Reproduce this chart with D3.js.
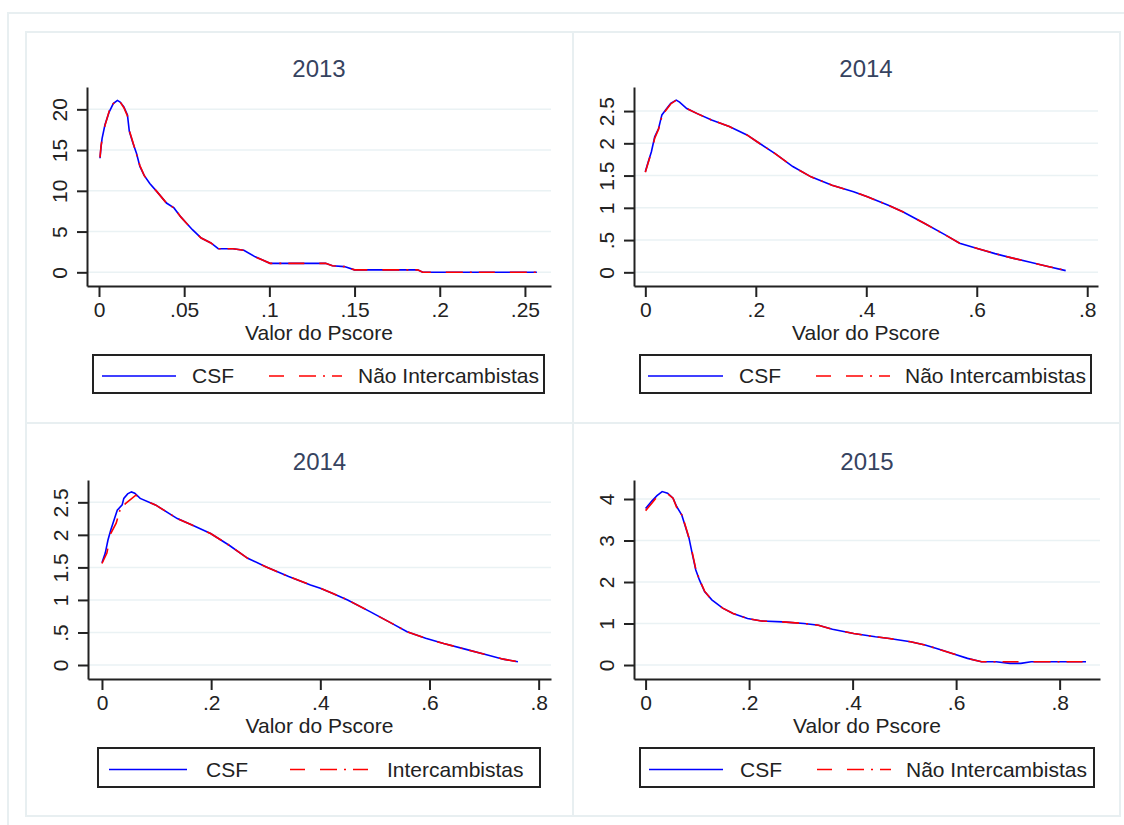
<!DOCTYPE html>
<html>
<head>
<meta charset="utf-8">
<script src="https://cdn.jsdelivr.net/npm/d3@7"></script>
<style>
  body { margin: 0; background: #fff; }
  text { font-family: "Liberation Sans", Arial, sans-serif; }
</style>
</head>
<body>
<svg id="chart"></svg>
<script>
const WIDTH = 1124
const HEIGHT = 825

// titles and legend labels
const titles = ["2013", "2014", "2014", "2015"]
const seriesLabels = [
    ["CSF", "Não Intercambistas"],
    ["CSF", "Não Intercambistas"],
    ["CSF", "Intercambistas"],
    ["CSF", "Não Intercambistas"]
]
const xLabel = "Valor do Pscore"

// ticks
const xTicks2013 = [0, 0.05, 0.1, 0.15, 0.2, 0.25]
const yTicks2013 = [0, 5, 10, 15, 20]
const xTicks2014 = [0, 0.2, 0.4, 0.6, 0.8]
const yTicks2014 = [0, 0.5, 1, 1.5, 2, 2.5]
const xTicks2015 = [0, 0.2, 0.4, 0.6, 0.8]
const yTicks2015 = [0, 1, 2, 3, 4]

// densities [pscore, density]
const csf2013 = [[0.0006,14.0],[0.0012,15.4],[0.0018,16.4],[0.0035,18.1],[0.006,19.7],[0.0084,20.7],[0.0108,21.1],[0.0124,20.9],[0.0146,20.3],[0.0167,19.3],[0.0178,17.3],[0.02,15.8],[0.022,14.6],[0.024,13.0],[0.0265,11.9],[0.0298,10.9],[0.034,9.9],[0.0396,8.5],[0.044,7.9],[0.048,6.8],[0.0515,6.0],[0.055,5.2],[0.06,4.2],[0.0657,3.6],[0.07,2.9],[0.0787,2.9],[0.085,2.7],[0.0917,1.9],[0.096,1.5],[0.1004,1.1],[0.1157,1.1],[0.133,1.1],[0.137,0.8],[0.144,0.7],[0.15,0.3],[0.159,0.3],[0.187,0.3],[0.19,0.0],[0.257,0.0]]
const nao2013 = [[0.0006,14.1],[0.0012,15.5],[0.0018,16.3],[0.0035,18.0],[0.006,19.8],[0.0084,20.7],[0.0108,21.0],[0.0124,20.9],[0.0146,20.2],[0.0167,19.2],[0.0178,17.4],[0.02,15.9],[0.022,14.5],[0.024,13.1],[0.0265,11.9],[0.0298,10.9],[0.034,9.9],[0.0396,8.5],[0.044,7.9],[0.048,6.8],[0.0515,6.0],[0.055,5.2],[0.06,4.2],[0.0657,3.6],[0.07,2.9],[0.0787,2.9],[0.085,2.7],[0.0917,1.9],[0.096,1.5],[0.1004,1.1],[0.1157,1.1],[0.133,1.1],[0.137,0.8],[0.144,0.7],[0.15,0.3],[0.159,0.3],[0.187,0.3],[0.19,0.0],[0.257,0.0]]

const csf2014 = [[0,1.56],[0.0045,1.69],[0.011,1.87],[0.017,2.10],[0.024,2.23],[0.030,2.44],[0.037,2.52],[0.046,2.62],[0.056,2.67],[0.062,2.64],[0.075,2.54],[0.094,2.46],[0.12,2.36],[0.152,2.26],[0.184,2.13],[0.203,2.02],[0.235,1.84],[0.267,1.64],[0.30,1.48],[0.338,1.35],[0.377,1.25],[0.402,1.17],[0.44,1.04],[0.466,0.94],[0.505,0.76],[0.543,0.58],[0.569,0.45],[0.601,0.37],[0.633,0.29],[0.665,0.22],[0.697,0.155],[0.729,0.09],[0.761,0.026]]
const nao2014 = [[0,1.55],[0.0045,1.68],[0.011,1.86],[0.017,2.08],[0.024,2.22],[0.030,2.42],[0.037,2.51],[0.046,2.61],[0.056,2.67],[0.062,2.64],[0.075,2.54],[0.094,2.46],[0.12,2.36],[0.152,2.26],[0.184,2.13],[0.203,2.02],[0.235,1.84],[0.267,1.64],[0.30,1.48],[0.338,1.35],[0.377,1.25],[0.402,1.17],[0.44,1.04],[0.466,0.94],[0.505,0.76],[0.543,0.58],[0.569,0.45],[0.601,0.37],[0.633,0.29],[0.665,0.22],[0.697,0.155],[0.729,0.09],[0.761,0.03]]

const csf2014b = [[0,1.57],[0.006,1.72],[0.011,1.92],[0.016,2.07],[0.023,2.25],[0.028,2.38],[0.037,2.46],[0.040,2.56],[0.047,2.63],[0.054,2.66],[0.060,2.64],[0.07,2.56],[0.098,2.46],[0.138,2.25],[0.165,2.15],[0.199,2.02],[0.233,1.84],[0.267,1.64],[0.30,1.51],[0.342,1.36],[0.382,1.23],[0.40,1.18],[0.423,1.10],[0.45,1.0],[0.491,0.82],[0.531,0.64],[0.559,0.51],[0.593,0.41],[0.626,0.33],[0.667,0.24],[0.708,0.15],[0.735,0.09],[0.762,0.05]]
const inter2014b = [[0,1.56],[0.009,1.72],[0.016,2.02],[0.026,2.18],[0.033,2.38],[0.043,2.48],[0.062,2.61],[0.07,2.56],[0.098,2.46],[0.138,2.25],[0.165,2.15],[0.199,2.02],[0.233,1.84],[0.267,1.64],[0.30,1.51],[0.342,1.36],[0.382,1.23],[0.40,1.18],[0.423,1.10],[0.45,1.0],[0.491,0.82],[0.531,0.64],[0.559,0.51],[0.593,0.41],[0.626,0.33],[0.667,0.24],[0.708,0.15],[0.735,0.09],[0.762,0.05]]

const csf2015 = [[0,3.77],[0.012,3.95],[0.022,4.08],[0.032,4.18],[0.0425,4.14],[0.053,4.02],[0.06,3.82],[0.07,3.61],[0.077,3.33],[0.084,3.05],[0.09,2.69],[0.097,2.29],[0.104,2.05],[0.114,1.77],[0.128,1.57],[0.149,1.37],[0.169,1.24],[0.197,1.12],[0.224,1.06],[0.265,1.04],[0.306,1.0],[0.334,0.96],[0.361,0.86],[0.402,0.76],[0.444,0.68],[0.471,0.64],[0.512,0.56],[0.54,0.48],[0.567,0.38],[0.594,0.27],[0.622,0.16],[0.649,0.08],[0.677,0.08],[0.704,0.04],[0.725,0.04],[0.745,0.08],[0.851,0.08]]
const nao2015 = [[0,3.72],[0.012,3.90],[0.022,4.05],[0.032,4.16],[0.0425,4.13],[0.053,4.02],[0.06,3.80],[0.07,3.62],[0.077,3.35],[0.084,3.06],[0.09,2.72],[0.097,2.31],[0.104,2.06],[0.114,1.78],[0.128,1.57],[0.149,1.37],[0.169,1.24],[0.197,1.12],[0.224,1.06],[0.265,1.04],[0.306,1.0],[0.334,0.96],[0.361,0.86],[0.402,0.76],[0.444,0.68],[0.471,0.64],[0.512,0.56],[0.54,0.48],[0.567,0.38],[0.594,0.27],[0.622,0.16],[0.649,0.08],[0.677,0.08],[0.704,0.08],[0.725,0.08],[0.745,0.08],[0.851,0.08]]

// layout of each graph (positions only)
const panels = [
    { title: titles[0], labels: seriesLabels[0], csf: csf2013, other: nao2013, xTicks: xTicks2013, yTicks: yTicks2013,
      box: [26, 32, 547, 391], plot: { l: 87, r: 551, t: 87, b: 286 }, xDom: [-0.00704, 0.2653], yDom: [-1.68, 22.74],
      legend: { x: 93, y: 355, w: 451, h: 38, l1: [9, 83], t1: 99, l2: [176, 249], t2: 265 } },
    { title: titles[1], labels: seriesLabels[1], csf: csf2014, other: nao2014, xTicks: xTicks2014, yTicks: yTicks2014,
      box: [573, 32, 547, 391], plot: { l: 634, r: 1098, t: 87, b: 286 }, xDom: [-0.0205, 0.8195], yDom: [-0.212, 2.873],
      legend: { x: 640, y: 355, w: 451, h: 38, l1: [8, 83], t1: 99, l2: [176, 250], t2: 265 } },
    { title: titles[2], labels: seriesLabels[2], csf: csf2014b, other: inter2014b, xTicks: xTicks2014, yTicks: yTicks2014,
      box: [26, 423, 547, 393], plot: { l: 88, r: 551, t: 480, b: 679 }, xDom: [-0.0256, 0.8226], yDom: [-0.215, 2.843],
      legend: { x: 98, y: 748, w: 442, h: 39, l1: [11, 89], t1: 108, l2: [192, 272], t2: 289 } },
    { title: titles[3], labels: seriesLabels[3], csf: csf2015, other: nao2015, xTicks: xTicks2015, yTicks: yTicks2015,
      box: [573, 423, 547, 393], plot: { l: 634, r: 1100, t: 480, b: 679 }, xDom: [-0.0224, 0.878], yDom: [-0.337, 4.458],
      legend: { x: 640, y: 748, w: 454, h: 39, l1: [9, 83], t1: 100, l2: [177, 251], t2: 266 } }
]

const BLUE = '#0000ff'
const RED = '#ff0000'
const DASH = '16,15,17,7,2,7'
const frameColor = '#e8eff1'
const FONT = '"Liberation Sans", Arial, sans-serif'
const FS = '21px'

// Stata style labels: .05 instead of 0.05
const fmt = v => String(v).replace(/^0\./, '.')

const svg = d3.select('#chart').attr('width', WIDTH).attr('height', HEIGHT)
svg.append('rect').attr('width', WIDTH).attr('height', HEIGHT).attr('fill', '#fff')

// outer frame (runs off the picture to the right and bottom)
svg.append('rect')
    .attr('x', 8).attr('y', 13).attr('width', 1140).attr('height', 840)
    .attr('fill', 'none').attr('stroke', frameColor).attr('stroke-width', 2)

panels.forEach(drawPanel)

function drawPanel(p) {
    const g = svg.append('g')

    g.append('rect')
        .attr('x', p.box[0]).attr('y', p.box[1]).attr('width', p.box[2]).attr('height', p.box[3])
        .attr('fill', '#fff').attr('stroke', frameColor).attr('stroke-width', 2)

    const x = d3.scaleLinear().domain(p.xDom).range([p.plot.l, p.plot.r])
    const y = d3.scaleLinear().domain(p.yDom).range([p.plot.b, p.plot.t])

    // grid
    g.append('g')
        .selectAll('line')
        .data(p.yTicks)
        .join('line')
        .attr('x1', p.plot.l).attr('x2', p.plot.r)
        .attr('y1', d => y(d)).attr('y2', d => y(d))
        .attr('stroke', '#eaf2f4').attr('stroke-width', 1.5)

    // x axis
    const xAxis = g.append('g')
        .attr('transform', `translate(0,${p.plot.b})`)
        .call(d3.axisBottom(x).tickValues(p.xTicks).tickFormat(fmt).tickSize(11).tickPadding(5).tickSizeOuter(0))
    xAxis.select('.domain').attr('stroke', '#222').attr('stroke-width', 2)
    xAxis.selectAll('.tick line').attr('stroke', '#222').attr('stroke-width', 2)
    xAxis.selectAll('.tick text')
        .style('font-size', FS).style('font-family', FONT)
        .attr('fill', '#222')

    // y axis, labels turned like Stata
    const yAxis = g.append('g')
        .attr('transform', `translate(${p.plot.l},0)`)
        .call(d3.axisLeft(y).tickValues(p.yTicks).tickFormat(fmt).tickSize(10).tickSizeOuter(0))
    yAxis.select('.domain').attr('stroke', '#222').attr('stroke-width', 2)
    yAxis.selectAll('.tick line').attr('stroke', '#222').attr('stroke-width', 2)
    yAxis.selectAll('.tick text')
        .attr('x', null).attr('dy', null)
        .attr('text-anchor', 'middle')
        .attr('transform', 'translate(-20,0) rotate(-90)')
        .style('font-size', FS).style('font-family', FONT)
        .attr('fill', '#222')

    // title
    g.append('text')
        .attr('x', (p.plot.l + p.plot.r) / 2)
        .attr('y', p.plot.t - 10)
        .attr('text-anchor', 'middle')
        .style('font-size', '24px')
        .attr('fill', '#36435f')
        .text(p.title)

    g.append('text')
        .attr('x', (p.plot.l + p.plot.r) / 2)
        .attr('y', p.plot.b + 54)
        .attr('text-anchor', 'middle')
        .style('font-size', FS)
        .attr('fill', '#222')
        .text(xLabel)

    const line = d3.line().x(d => x(d[0])).y(d => y(d[1]))

    g.append('path')
        .attr('d', line(p.csf))
        .attr('fill', 'none').attr('stroke', BLUE).attr('stroke-width', 1.6)
    g.append('path')
        .attr('d', line(p.other))
        .attr('fill', 'none').attr('stroke', RED).attr('stroke-width', 1.6)
        .attr('stroke-dasharray', DASH)

    // legend
    const L = p.legend
    const lg = g.append('g').attr('transform', `translate(${L.x},${L.y})`)
    lg.append('rect')
        .attr('width', L.w).attr('height', L.h)
        .attr('fill', '#fff').attr('stroke', '#222').attr('stroke-width', 2)
    const my = L.h / 2 + 2
    lg.append('line')
        .attr('x1', L.l1[0]).attr('x2', L.l1[1]).attr('y1', my).attr('y2', my)
        .attr('stroke', BLUE).attr('stroke-width', 1.6)
    lg.append('line')
        .attr('x1', L.l2[0]).attr('x2', L.l2[1]).attr('y1', my).attr('y2', my)
        .attr('stroke', RED).attr('stroke-width', 1.6)
        .attr('stroke-dasharray', '15,15,17,7,2,7')
    lg.append('text')
        .attr('x', L.t1).attr('y', my + 7)
        .style('font-size', FS).attr('fill', '#222')
        .text(p.labels[0])
    lg.append('text')
        .attr('x', L.t2).attr('y', my + 7)
        .style('font-size', FS).attr('fill', '#222')
        .text(p.labels[1])
}
</script>
</body>
</html>
